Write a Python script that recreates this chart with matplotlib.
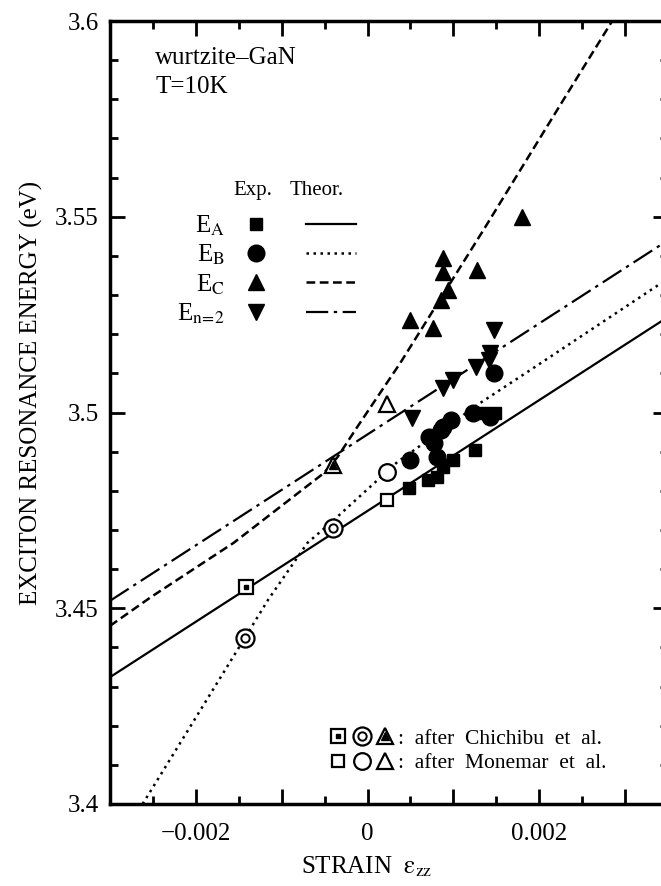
import matplotlib
matplotlib.use("Agg")
import matplotlib.pyplot as plt
from matplotlib.lines import Line2D
from matplotlib.legend_handler import HandlerTuple
from matplotlib.ticker import MultipleLocator, FuncFormatter

plt.rcParams['font.family'] = 'Liberation Serif'
plt.rcParams['mathtext.fontset'] = 'stix'

# theory curves
strain_a = [-0.003, 0.0035]
energy_a = [3.4324, 3.5244]
strain_n2 = [-0.003, 0.0035]
energy_n2 = [3.4519, 3.5440]
strain_b = [-0.00262, -0.00143, -0.00116, -0.00070, -0.00043, 0.00012, 0.00035, 0.00131, 0.00190, 0.0035]
energy_b = [3.4000, 3.4424, 3.4521, 3.4667, 3.4718, 3.4828, 3.4874, 3.5024, 3.5109, 3.5342]
strain_c = [-0.003, -0.00252, -0.00156, -0.00051, -0.00035, -0.00012, 0.00038, 0.00135, 0.00228, 0.00285]
energy_c = [3.4455, 3.4529, 3.4667, 3.4845, 3.4886, 3.4963, 3.5126, 3.5466, 3.5798, 3.6000]

# experiment, filled symbols
exp_a_x = [0.00048, 0.00070, 0.00081, 0.00088, 0.00100, 0.00125, 0.00135, 0.00149]
exp_a_y = [3.4807, 3.4828, 3.4835, 3.4861, 3.4879, 3.4904, 3.4999, 3.5000]
exp_b_x = [0.00050, 0.00072, 0.00077, 0.00081, 0.00085, 0.00088, 0.00097, 0.00123, 0.00143, 0.00147]
exp_b_y = [3.4879, 3.4937, 3.4922, 3.4886, 3.4955, 3.4963, 3.4981, 3.4999, 3.4989, 3.5101]
exp_c_x = [0.00050, 0.00076, 0.00085, 0.00094, 0.00088, 0.00088, 0.00128, 0.00180]
exp_c_y = [3.5236, 3.5216, 3.5287, 3.5313, 3.5359, 3.5395, 3.5364, 3.5500]
exp_n2_x = [0.00052, 0.00088, 0.00100, 0.00126, 0.00141, 0.00143, 0.00147]
exp_n2_y = [3.4986, 3.5063, 3.5083, 3.5116, 3.5134, 3.5152, 3.5211]

# open symbols: Monemar et al. (square, circle, triangle)
mon_x = [0.00023, 0.00023, 0.00023]
mon_y = [3.4777, 3.4848, 3.5022]
# Chichibu et al.
chi_sq_x, chi_sq_y = [-0.00141], [3.4554]
chi_ci_x, chi_ci_y = [-0.00040, -0.00143], [3.4705, 3.4424]
chi_tr_x, chi_tr_y = [-0.00040], [3.4866]

fig = plt.figure(figsize=(6.61, 8.86), dpi=100)
ax = fig.add_axes([110/661, 82/886, 558/661, 783/886])

lA, = ax.plot(strain_a, energy_a, color='k', lw=1.6, ls='-')
lB, = ax.plot(strain_b, energy_b, color='k', lw=1.8, ls=(0, (1, 1.8)))
lC, = ax.plot(strain_c, energy_c, color='k', lw=1.8, ls=(0, (3.5, 1.8)))
lN, = ax.plot(strain_n2, energy_n2, color='k', lw=1.6, ls=(0, (10, 2.5, 1.5, 2.5)))

mA, = ax.plot(exp_a_x, exp_a_y, 's', color='k', ms=9, ls='none')
mB, = ax.plot(exp_b_x, exp_b_y, 'o', color='k', ms=12, ls='none')
mC, = ax.plot(exp_c_x, exp_c_y, '^', color='k', ms=11, ls='none')
mN, = ax.plot(exp_n2_x, exp_n2_y, 'v', color='k', ms=11, ls='none')

open_kw = dict(ls='none', mfc='white', mec='k', mew=1.6)
o1, = ax.plot(mon_x[0:1], mon_y[0:1], 's', ms=9, **open_kw)
o2, = ax.plot(mon_x[1:2], mon_y[1:2], 'o', ms=12, **open_kw)
o3, = ax.plot(mon_x[2:3], mon_y[2:3], '^', ms=11, **open_kw)

c1a, = ax.plot(chi_sq_x, chi_sq_y, 's', ms=10, **open_kw)
c1b, = ax.plot(chi_sq_x, chi_sq_y, 's', ms=3, color='k', ls='none')
c2a, = ax.plot(chi_ci_x, chi_ci_y, 'o', ms=13, **open_kw)
c2b, = ax.plot(chi_ci_x, chi_ci_y, 'o', ms=6, mfc='none', mec='k', mew=1.4, ls='none')
c3a, = ax.plot(chi_tr_x, chi_tr_y, '^', ms=12, **open_kw)
c3b, = ax.plot(chi_tr_x, chi_tr_y, '^', ms=6, color='k', ls='none')

ax.set_xlim(-0.003, 0.0035)
ax.set_ylim(3.4, 3.6)


def xfmt(v, pos):
    k = v / 0.002
    if abs(k - round(k)) > 1e-6:
        return ''
    if abs(v) < 1e-9:
        return '0'
    return f'{v:.3f}'.replace('-', '\u2212')


ax.xaxis.set_major_locator(MultipleLocator(0.001))
ax.xaxis.set_minor_locator(MultipleLocator(0.0005))
ax.xaxis.set_major_formatter(FuncFormatter(xfmt))
ax.yaxis.set_major_locator(MultipleLocator(0.05))
ax.yaxis.set_minor_locator(MultipleLocator(0.01))
ax.yaxis.set_major_formatter(FuncFormatter(lambda v, p: f'{v:g}'))
ax.tick_params(which='both', direction='in', top=True, right=True, width=2, labelsize=18)
ax.tick_params(which='major', length=11)
ax.tick_params(which='minor', length=6)
ax.tick_params(axis='x', pad=14)
ax.tick_params(axis='y', pad=8)
for s in ax.spines.values():
    s.set_linewidth(2.5)

ax.set_xlabel(r'STRAIN  $\mathrm{\varepsilon_{zz}}$', fontsize=18)
ax.xaxis.set_label_coords(0.46, -0.064)
ax.set_ylabel('EXCITON RESONANCE ENERGY (eV)', fontsize=18)
ax.yaxis.set_label_coords(-0.12, 0.525)

ax.text(0.081, 0.953, 'wurtzite\u2013GaN', transform=ax.transAxes, fontsize=18, va='center')
ax.text(0.081, 0.916, 'T=10K', transform=ax.transAxes, fontsize=18, va='center')
ax.text(0.256, 0.784, 'Exp.', transform=ax.transAxes, fontsize=15, va='center', ha='center')
ax.text(0.370, 0.784, 'Theor.', transform=ax.transAxes, fontsize=15, va='center', ha='center')

leg1 = ax.legend(handles=[(mA, lA), (mB, lB), (mC, lC), (mN, lN)],
                 labels=[r'E$_\mathrm{A}$', r'E$_\mathrm{B}$', r'E$_\mathrm{C}$', r'E$_\mathrm{n\!=\!2}$'],
                 handler_map={tuple: HandlerTuple(ndivide=None, pad=1.0)},
                 markerfirst=False, frameon=False, fontsize=18,
                 handlelength=5, handletextpad=0.25, labelspacing=0.2, borderpad=0,
                 borderaxespad=0, loc='upper left', bbox_to_anchor=(0.12, 0.754))
ax.add_artist(leg1)

chi_sq = (c1a, c1b)
chi_ci = (c2a, c2b)
chi_tr = (c3a, c3b)
ax.legend(handles=[(chi_sq, chi_ci, chi_tr), (o1, o2, o3)],
          labels=[':  after  Chichibu  et  al.', ':  after  Monemar  et  al.'],
          handler_map={tuple: HandlerTuple(ndivide=None, pad=0.1),
                       chi_sq: HandlerTuple(ndivide=1),
                       chi_ci: HandlerTuple(ndivide=1),
                       chi_tr: HandlerTuple(ndivide=1)},
          frameon=False, fontsize=15.5, handlelength=3.2, handletextpad=0.1,
          labelspacing=0.2, borderpad=0,
          loc='upper left', bbox_to_anchor=(0.37, 0.11))

fig.savefig('out.png', dpi=100)
